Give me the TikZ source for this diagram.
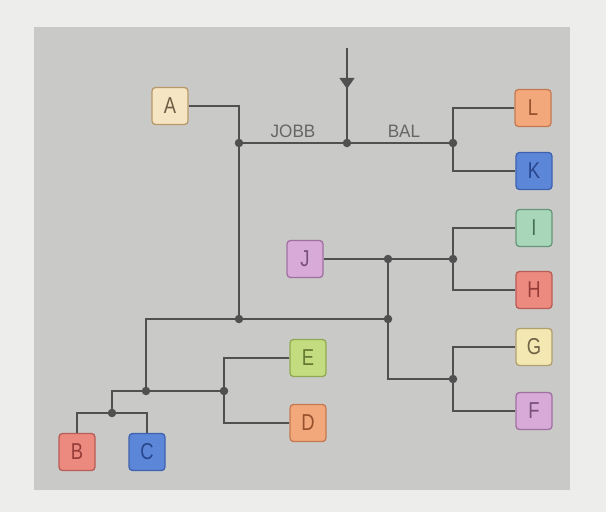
\documentclass[tikz,border=0pt]{standalone}
\usepackage{fontspec}
\setmainfont{Liberation Sans}[FakeStretch=0.8]
\newfontfamily\labfont{Liberation Sans}[FakeStretch=0.95]
\usetikzlibrary{arrows.meta,decorations.markings}
\definecolor{page}{HTML}{EDEDEB}
\definecolor{panel}{HTML}{C9C9C7}
\definecolor{wire}{HTML}{505050}
\definecolor{lbl}{HTML}{666666}
\tikzset{
  box/.style={draw, rounded corners=3.5pt, line width=1.3pt, minimum width=36pt, minimum height=37pt, inner sep=0pt, font=\fontsize{23}{23}\selectfont},
  wires/.style={draw=wire, line width=1.8pt},
  jdot/.style={circle, fill=wire, inner sep=0pt, minimum size=8.5pt},
  lab/.style={text=lbl, font=\labfont\fontsize{18}{18}\selectfont, inner sep=0pt},
  cream/.style={box, fill={rgb,255:red,246;green,229;blue,194}, draw={rgb,255:red,184;green,154;blue,106}, text={rgb,255:red,110;green,92;blue,70}},
  orng/.style={box, fill={rgb,255:red,242;green,168;blue,122}, draw={rgb,255:red,196;green,122;blue,80}, text={rgb,255:red,150;green,80;blue,45}},
  blu/.style={box, fill={rgb,255:red,92;green,134;blue,216}, draw={rgb,255:red,62;green,98;blue,176}, text={rgb,255:red,40;green,70;blue,140}},
  mint/.style={box, fill={rgb,255:red,168;green,214;blue,184}, draw={rgb,255:red,104;green,150;blue,120}, text={rgb,255:red,70;green,110;blue,85}},
  salm/.style={box, fill={rgb,255:red,236;green,138;blue,128}, draw={rgb,255:red,184;green,92;blue,86}, text={rgb,255:red,150;green,60;blue,56}},
  yell/.style={box, fill={rgb,255:red,243;green,231;blue,178}, draw={rgb,255:red,176;green,160;blue,112}, text={rgb,255:red,110;green,100;blue,70}},
  lila/.style={box, fill={rgb,255:red,216;green,170;blue,216}, draw={rgb,255:red,160;green,112;blue,160}, text={rgb,255:red,120;green,80;blue,120}},
  lime/.style={box, fill={rgb,255:red,196;green,220;blue,128}, draw={rgb,255:red,144;green,168;blue,80}, text={rgb,255:red,100;green,120;blue,50}},
}
\begin{document}
\begin{tikzpicture}[x=1pt,y=-1pt]
\fill[page] (0,0) rectangle (606,512);
\useasboundingbox (0,0) rectangle (606,512);
\fill[panel] (34,27) rectangle (570,490);

% boxes
\node[cream] (A) at (170,106) {A};
\node[orng]  (L) at (533,108) {L};
\node[blu]   (K) at (534,171) {K};
\node[mint]  (I) at (534,228) {I};
\node[lila]  (J) at (305,259) {J};
\node[salm]  (H) at (534,290) {H};
\node[yell]  (G) at (534,347) {G};
\node[lila]  (F) at (534,411) {F};
\node[lime]  (E) at (308,358) {E};
\node[orng]  (D) at (308,423) {D};
\node[salm]  (B) at (77,452) {B};
\node[blu]   (C) at (147,452) {C};

% junctions
\coordinate (j1) at (239,143);
\coordinate (j2) at (347,143);
\coordinate (j3) at (453,143);
\coordinate (j4) at (453,259);
\coordinate (j5) at (388,259);
\coordinate (j6) at (388,319);
\coordinate (j7) at (239,319);
\coordinate (j8) at (146,391);
\coordinate (j9) at (224,391);
\coordinate (j10) at (112,413);
\coordinate (j11) at (453,379);
\coordinate (top) at (347,48);

% wires
\path[wires] (A.east) -| (j1);
\path[wires] (j1) -- (j3);
\path[wires, postaction={decorate}, decoration={markings, mark=at position 0.43 with {\arrow{Triangle[length=11pt,width=15pt]}}}] (top) -- (j2);
\path[wires] (L.west) -| (j3);
\path[wires] (K.west) -| (j3);
\path[wires] (I.west) -| (j4);
\path[wires] (H.west) -| (j4);
\path[wires] (J.east) -- (j5) -- (j4);
\path[wires] (j5) -- (j6);
\path[wires] (j6) |- (j11);
\path[wires] (G.west) -| (j11);
\path[wires] (F.west) -| (j11);
\path[wires] (j1) -- (j7) -- (j6);
\path[wires] (j7) -| (j8);
\path[wires] (j10) |- (j8);
\path[wires] (j8) -- (j9);
\path[wires] (E.west) -| (j9);
\path[wires] (D.west) -| (j9);
\path[wires] (B.north) |- (j10);
\path[wires] (C.north) |- (j10);

\foreach \j in {j1,j2,j3,j4,j5,j6,j7,j8,j9,j10,j11}
  \node[jdot] at (\j) {};

% labels
\node[lab] (jobb) at (293,131) {JOBB};
\node[lab] (bal) at (404,131) {BAL};
\end{tikzpicture}
\end{document}
